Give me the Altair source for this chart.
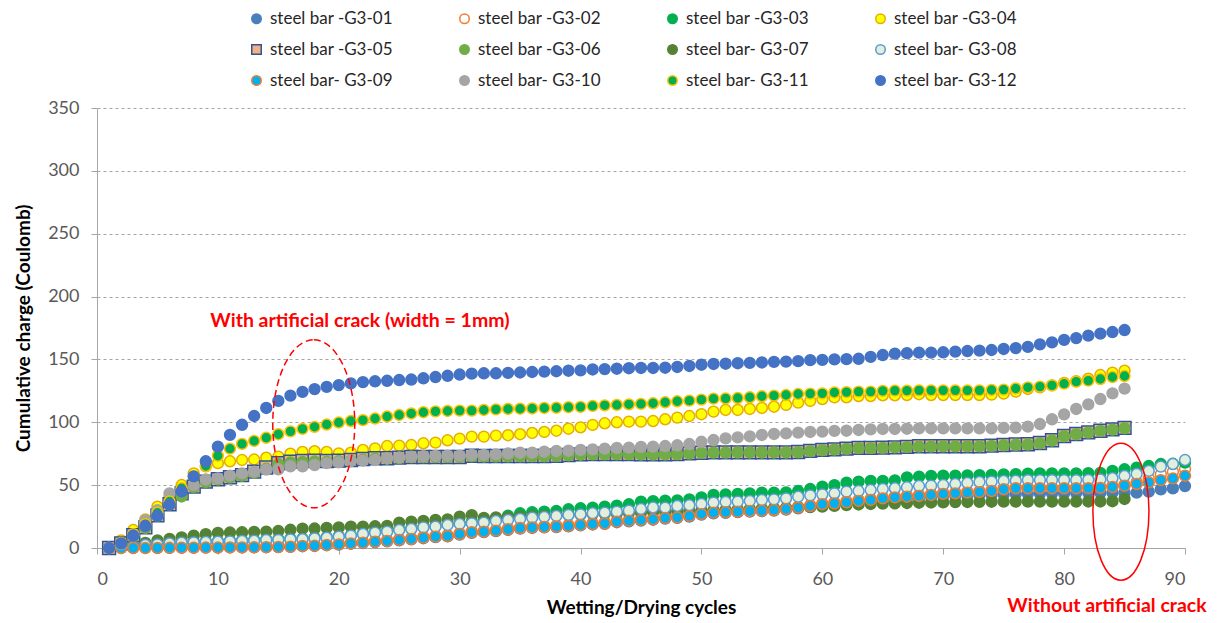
import altair as alt
import pandas as pd

# ---------------- data ----------------
series_names = [
    "steel bar -G3-01", "steel bar -G3-02", "steel bar -G3-03", "steel bar -G3-04",
    "steel bar -G3-05", "steel bar -G3-06", "steel bar- G3-07", "steel bar- G3-08",
    "steel bar- G3-09", "steel bar- G3-10", "steel bar- G3-11", "steel bar- G3-12",
]

g3_01 = [0, 0, 0, 0, 0, 0.1, 0.2, 0.2, 0.3, 0.3, 0.4, 0.4, 0.5, 0.6, 0.7, 0.9, 1.4, 1.6, 2.2, 2.7,
         3.4, 4, 4.7, 5.3, 6.1, 6.9, 7.8, 8.6, 9.2, 10.6, 12, 12.6, 13.4, 14.4, 15.4, 16, 16.4, 16.7, 17.2, 18,
         18.7, 19.2, 20.5, 21.2, 21.8, 22.5, 23.4, 24, 25, 26.5, 27.6, 28, 28.5, 29, 29.3, 29.8, 30.5, 31.6, 32.8, 34,
         35, 35.8, 36.8, 37.6, 38.6, 39.3, 39.8, 40.3, 40.8, 41.3, 41.7, 42, 42.2, 42.5, 42.8, 43, 43.2, 43.4, 43.5, 43.6,
         43.7, 43.8, 43.9, 44, 44, 44, 44.8, 46.7, 47.5, 49.3]
g3_02 = [0, 0.2, 0.3, 0.4, 0.5, 0.6, 0.7, 0.8, 0.9, 1, 1.1, 1.2, 1.3, 1.4, 1.5, 1.8, 2.2, 2.5, 3, 3.5,
         4.2, 4.8, 5.5, 6.2, 7, 7.8, 8.8, 9.6, 10.2, 11.8, 13.2, 13.7, 14.5, 15.6, 16.5, 17, 17.4, 17.8, 18.3, 19,
         19.8, 20.4, 21.7, 22.4, 23, 23.6, 24.6, 25.2, 26.2, 27.7, 28.8, 29.2, 29.7, 30.2, 30.5, 31, 31.8, 32.9, 34.2, 35.6,
         36.3, 37.2, 38.2, 39, 40.3, 41.1, 41.7, 42.3, 43, 43.8, 44.3, 44.8, 45.3, 46.1, 47.5, 48.3, 48.3, 48.3, 48.3, 48.3,
         48.4, 48.5, 48.7, 49.4, 50.5, 52.5, 55.4, 58.6, 60.6, 62.8]
g3_03 = [0, 0.3, 0.8, 2.8, 3.3, 4, 4.6, 5, 5.3, 5.5, 5.8, 6.1, 6.3, 6.9, 7, 7.5, 7.5, 8.2, 8.7, 9.5,
         10.3, 11.6, 12.7, 13.5, 14.8, 15.6, 16.9, 17.5, 18.8, 19.6, 20.8, 22.8, 23.6, 25.7, 27.6, 28.4, 28.9, 29.4, 30.8, 31.6,
         32.1, 32.9, 33.7, 34.8, 36.9, 37.3, 37.7, 37.9, 38.7, 40.3, 42.2, 42.7, 43, 43.5, 44, 44.1, 44.3, 45.3, 46.9, 48.8,
         50, 52, 52.8, 53.3, 53.4, 53.8, 56.2, 56.7, 57.3, 57.5, 57.5, 57.8, 57.9, 58.1, 58.6, 58.8, 59.2, 59.4, 59.4, 59.4,
         59.4, 59.5, 59.8, 61.3, 62.6, 63.9, 65.2, 66.8, 67, 68]
g3_04 = [0, 6, 14.3, 22.8, 32.9, 40.8, 50.1, 59.4, 65, 67.5, 69, 70, 70.4, 71.8, 72.7, 75, 76.4, 77, 76.4, 75.3,
         75.8, 78, 79.3, 81.1, 81.4, 81.9, 83.3, 83.8, 85.7, 87, 88.6, 88.6, 89.4, 89.7, 90.5, 91.5, 92.3, 93.3, 94.9, 96,
         97.9, 99.2, 100, 100.5, 100.5, 101, 102.4, 103.7, 105, 106.4, 108.5, 109.8, 109.8, 110.6, 111.4, 112.4, 113.8, 115.6, 117, 118.5,
         119.8, 119.9, 120.9, 120.9, 121.5, 121.5, 121.7, 122.3, 121.7, 121.7, 121.7, 121.7, 121.7, 122, 122.8, 124.4, 126.5, 127.8, 129.4, 131.3,
         132.6, 134.7, 137.6, 139.5, 141]
g3_05 = [0, 3.7, 10.3, 16.4, 26, 34.8, 43.5, 48.8, 52.8, 54.7, 56.3, 58, 60.7, 64, 67.4, 68.7, 69.2, 69.5, 69.2, 69.5,
         70, 70.8, 71.4, 71.4, 71.9, 72.4, 72.4, 72.4, 72.4, 72.4, 73.4, 73.2, 73.2, 73.2, 73.2, 73.2, 73.2, 73.4, 74, 74.5,
         74.8, 74.8, 74.8, 74.8, 74.5, 74.5, 74.5, 74.8, 75.3, 75.8, 76.1, 76.1, 76.1, 76.1, 76.1, 76.1, 76.1, 76.4, 77.2, 78,
         78.5, 79, 79.6, 79.6, 79.8, 80.1, 80.4, 80.9, 80.9, 80.9, 80.9, 80.9, 80.9, 81.4, 81.9, 82.3, 82.5, 83.5, 85.7, 89.1,
         90.7, 92, 93.3, 94.4, 95.5]
g3_06 = [0, 3.5, 10, 16, 25.5, 34.5, 41, 48.5, 52.5, 54.5, 56, 57.5, 60, 63, 66.8, 68, 68.5, 68.8, 68.6, 69,
         69.5, 70.3, 71, 71, 71.5, 72.2, 72.2, 72.3, 72.3, 72.4, 73, 72.8, 72.8, 72.9, 72.9, 73, 73, 73.2, 73.7, 74.2,
         74.5, 74.5, 74.6, 74.6, 74.3, 74.3, 74.4, 74.6, 75.1, 75.6, 75.9, 75.9, 76, 76, 76, 76, 76, 76.2, 77, 77.8,
         78.3, 78.8, 79.4, 79.4, 79.6, 80, 80.2, 80.7, 80.7, 80.8, 80.8, 80.8, 80.8, 81.2, 81.7, 82.1, 82.3, 83.3, 85.5, 88.9,
         90.5, 91.8, 93.1, 94.2, 95.3]
g3_07 = [0, 1, 2, 4, 6, 7.2, 8.5, 9.8, 11, 12, 12.3, 12.5, 12.8, 13, 13.5, 14.5, 15.4, 15.5, 16, 16.4,
         17, 17, 17.3, 17.6, 20.2, 21, 21.5, 22.3, 22.8, 24.9, 26.2, 24, 24.3, 24.6, 25, 25.3, 25.6, 26, 26.3, 26.6,
         27, 27.3, 27.6, 28, 28.3, 28.6, 28.9, 29.2, 29.5, 29.8, 30.1, 30.4, 30.7, 31, 31.3, 31.6, 31.9, 32.2, 32.5, 32.9,
         33.5, 34.2, 34.6, 35, 35.3, 35.5, 35.8, 36, 36.2, 36.3, 36.5, 36.6, 36.7, 36.8, 36.9, 36.9, 36.9, 36.9, 36.9, 36.9,
         36.9, 37, 37, 37.2, 39]
g3_08 = [0, 0.4, 1, 2.4, 2.9, 3.7, 4.2, 4.5, 4.8, 5, 5.3, 5.6, 5.8, 6.4, 6.5, 6.9, 7, 7.7, 8.2, 9,
         9.8, 11.1, 12.2, 13, 14.3, 15.1, 16.4, 17, 18.3, 19.1, 19.6, 20.2, 21.5, 22.3, 23.1, 24.1, 24.7, 25.5, 26.3, 26.8,
         27.6, 28.1, 28.9, 29.7, 31, 32.2, 32.1, 33.4, 34, 35, 36.1, 36.6, 36.9, 37.4, 38.2, 38.7, 39.5, 40.8, 41.9, 42.7,
         43.5, 44.8, 45.3, 46.1, 46.9, 47.5, 48.3, 49.3, 49.6, 50.1, 50.9, 51.7, 52.5, 52.8, 53.3, 53.5, 54, 54, 54, 54,
         54, 54.2, 54.5, 55.5, 57.3, 58.9, 61.3, 64.7, 66.8, 70]
g3_09 = [0, 0, 0, 0, 0.1, 0.2, 0.3, 0.3, 0.4, 0.4, 0.5, 0.5, 0.6, 0.7, 0.8, 1, 1.6, 1.8, 2.4, 2.9,
         3.7, 4.2, 5, 5.6, 6.4, 7.2, 8.2, 9, 9.5, 11.1, 12.5, 13, 13.8, 14.9, 15.9, 16.4, 16.7, 17, 17.5, 18.3,
         19.1, 19.6, 21, 21.7, 22.3, 22.9, 23.9, 24.4, 25.5, 27, 28.1, 28.4, 28.9, 29.4, 29.7, 30.2, 31, 32.1, 33.4, 34.8,
         35.5, 36.3, 37.4, 38.2, 39.5, 40.3, 40.8, 41.4, 42.2, 43, 43.5, 44, 44.5, 45.3, 46.7, 47.5, 47.5, 47.5, 47.5, 47.5,
         47.5, 47.6, 47.8, 48.5, 49.6, 50.9, 52.2, 54, 55.4, 57.5]
g3_10 = [0, 3, 10, 22, 30, 43.5, 47, 50, 54.5, 55.4, 57.6, 59.4, 60.7, 62.3, 62.6, 65, 65, 66, 67.5, 68.1,
         69.2, 69.5, 70, 71.4, 72.1, 72.7, 73, 73.2, 73.4, 73.5, 74, 74, 74.5, 75.3, 75.8, 75.8, 76.6, 77.2, 77.4, 78,
         78.5, 79, 79.6, 79.8, 80.4, 80.6, 81.1, 81.7, 82.7, 84.5, 85.9, 87.2, 88, 88.8, 89.9, 90.7, 91.2, 91.8, 92.3, 92.6,
         93.2, 93.3, 93.9, 94.4, 94.7, 94.7, 94.9, 95.2, 95.2, 95.2, 95.2, 95.2, 95.2, 95.2, 95.5, 95.8, 96.5, 98.6, 102.4, 106.3,
         110.6, 114.3, 118.5, 123, 126.8]
g3_11 = [0, 4, 11, 19, 28, 37, 47.5, 57, 65.2, 73.4, 79, 82.8, 85.2, 87.7, 90.5, 92.8, 94.8, 96.4, 98.2, 99.8,
         101, 101.7, 103, 104.6, 105.8, 107, 108, 108.7, 109, 109.3, 109.3, 109.8, 110.3, 110.6, 110.8, 111, 111.4, 111.6, 112, 112.3,
         113, 113.5, 113.8, 114.3, 114.6, 115.1, 115.9, 116.7, 117.2, 118, 118.8, 119, 119.3, 119.9, 120.7, 121.2, 121.7, 122.5, 122.8, 123,
         123.7, 124, 124.4, 124.4, 125, 125.2, 125.2, 125.4, 125.4, 125.4, 125.4, 125.4, 125.4, 125.7, 126, 126.9, 127.8, 128.4, 129.4, 130.7,
         132.3, 133.1, 134.4, 136, 136.8]
g3_12 = [0, 3.7, 9.8, 17.5, 25.5, 34.5, 45, 57, 69, 80.6, 90, 98, 105, 111.4, 117, 121.2, 124.2, 126.4, 128.2, 129.6,
         131, 132, 132.6, 133, 133.6, 134, 135, 136, 137, 138, 138.7, 139, 139, 139.3, 139.6, 140, 140.3, 140.6, 141, 141.3,
         142, 142.3, 142.6, 143, 143.2, 143.2, 143.4, 144, 144.8, 145.8, 146.4, 146.6, 147, 147.3, 147.6, 148, 148.2, 148.6, 149.4, 149.6,
         150, 150.2, 150.5, 152, 153.5, 154.6, 155, 155.4, 155.4, 155.7, 156.2, 156.7, 157, 157.5, 158.3, 159, 160, 162, 163.6, 165.5,
         167, 168.9, 170.5, 171.8, 173.4]

all_series = [g3_01, g3_02, g3_03, g3_04, g3_05, g3_06, g3_07, g3_08, g3_09, g3_10, g3_11, g3_12]

# styles
fill_colors = ["#4A7EBB", "#FFFFFF", "#00B050", "#FFFF00", "#F4B183", "#70AD47",
               "#548235", "#E2EFDA", "#00B0F0", "#A5A5A5", "#00B050", "#4472C4"]
stroke_colors = ["#4A7EBB", "#ED7D31", "#00B050", "#E6AC00", "#2F5597", "#70AD47",
                 "#548235", "#5B9BD5", "#ED7D31", "#A5A5A5", "#FFC000", "#4472C4"]
shapes = ["circle"] * 4 + ["square"] + ["circle"] * 7

rows = []
for name, vals in zip(series_names, all_series):
    for i, v in enumerate(vals):
        rows.append({"series": name, "cycle": i + 1, "charge": v})
df = pd.DataFrame(rows)

FONT = "Lato"

legend = alt.Legend(
    title=None, orient="none", legendX=151, legendY=-98, columns=4, direction="horizontal",
    symbolSize=90, symbolStrokeWidth=1.5, symbolOpacity=1,
    labelFont=FONT, labelFontSize=17, labelColor="#262626",
    columnPadding=63, rowPadding=13, padding=0, labelOffset=5, labelLimit=300,
)

points = alt.Chart(df).mark_point(filled=True, opacity=1, strokeWidth=1.5).encode(
    x=alt.X("cycle:Q",
            scale=alt.Scale(domain=[0, 90], nice=False, zero=False),
            axis=alt.Axis(values=list(range(0, 91, 10)), title="Wetting/Drying cycles", grid=False)),
    y=alt.Y("charge:Q",
            scale=alt.Scale(domain=[0, 350], nice=False),
            axis=alt.Axis(values=list(range(0, 351, 50)), title="Cumulative charge (Coulomb)",
                          grid=True, gridDash=[3, 3], gridColor="#A6A6A6")),
    fill=alt.Fill("series:N", scale=alt.Scale(domain=series_names, range=fill_colors), legend=legend),
    stroke=alt.Stroke("series:N", scale=alt.Scale(domain=series_names, range=stroke_colors), legend=legend),
    shape=alt.Shape("series:N", scale=alt.Scale(domain=series_names, range=shapes), legend=legend),
    size=alt.condition("datum.series === 'steel bar -G3-05'", alt.value(165), alt.value(118)),
)

# annotations (ellipse centres in data units)
k = 0.5523


def ellipse_path(a):
    ak = round(a * k, 4)
    return (f"M0,-1C{ak},-1,{a},-{k},{a},0C{a},{k},{ak},1,0,1"
            f"C-{ak},1,-{a},{k},-{a},0C-{a},-{k},-{ak},-1,0,-1Z")


crack_ellipse = pd.DataFrame({"cycle": [17.93], "charge": [98.8]})
nocrack_ellipse = pd.DataFrame({"cycle": [84.7], "charge": [28.9]})

dashed = alt.Chart(crack_ellipse).mark_point(
    shape=ellipse_path(0.488), size=168 * 168, filled=False, opacity=1,
    stroke="#FF0000", strokeWidth=1.5, strokeDash=[7, 4]
).encode(x="cycle:Q", y="charge:Q")

solid = alt.Chart(nocrack_ellipse).mark_point(
    shape=ellipse_path(0.409), size=137 * 137, filled=False, opacity=1,
    stroke="#FF0000", strokeWidth=1.5
).encode(x="cycle:Q", y="charge:Q")

labels = pd.DataFrame({
    "cycle": [21.75, 83.55],
    "charge": [180.6, -46.5],
    "text": ["With artificial crack (width = 1mm)", "Without artificial crack"],
})
texts = alt.Chart(labels).mark_text(
    font=FONT, fontSize=19.5, fontWeight="bold", color="#FF0000", align="center", baseline="middle"
).encode(x="cycle:Q", y="charge:Q", text="text:N")

chart = alt.layer(points, dashed, solid, texts).properties(
    width=1088, height=440,
    autosize=alt.AutoSizeParams(type="none"),
    padding={"left": 89, "top": 100, "right": 26, "bottom": 72},
).configure_view(stroke=None).configure_axis(
    labelFont=FONT, labelFontSize=18, labelColor="#595959",
    titleFont=FONT, titleFontSize=19, titleFontWeight="bold", titleColor="#000000",
    domainColor="#A6A6A6", tickColor="#A6A6A6", tickSize=6,
).configure_axisY(
    labelPadding=12, titlePadding=14,
).configure_axisX(
    labelPadding=16, titlePadding=10,
)

chart.save("out.html", embed_options={"renderer": "svg", "actions": False})
